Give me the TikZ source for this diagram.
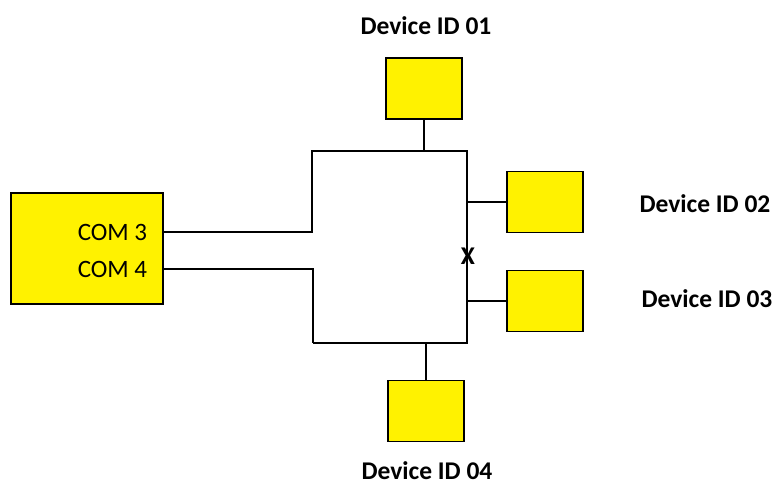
\documentclass[tikz,border=0pt]{standalone}
\usepackage{fontspec}
\setmainfont{Carlito}
\usetikzlibrary{positioning}

\begin{document}
\begin{tikzpicture}[x=1pt, y=-1pt, line width=1.7pt,
    every device/.style={rectangle, draw, fill=yellow, minimum width=76pt, minimum height=61pt, inner sep=0pt},
    every label/.style={font=\fontsize{25.5}{30}\selectfont\bfseries, inner sep=0pt},
    every port/.style={font=\fontsize{25}{30}\selectfont, inner sep=0pt, anchor=east}]

    \useasboundingbox (0,0) rectangle (776,487);

    % Host with two COM ports
    \node[every device, minimum width=152pt, minimum height=111pt] (Host) at (87, 248.5) {};
    \node[every port] (COM-3) at (148, 232) {COM 3};
    \node[every port] (COM-4) at (148, 269) {COM 4};

    % Devices and their labels
    \foreach \n/\x/\y/\lx/\ly in {01/424/88.5/426/26, 02/545/202/705/204, 03/545/301/707/299, 04/426/411/427/471}
    {
        \node[every device] (D-\n) at (\x, \y) {};
        \node[every label] (L-\n) at (\lx, \ly) {Device ID \n};
    }

    % Bus corners
    \coordinate (B-tl) at (312, 151);
    \coordinate (B-tr) at (467, 151);
    \coordinate (B-br) at (467, 343);
    \coordinate (B-bl) at (313, 343);

    % Lines from the ports to the bus
    \draw (Host.east |- COM-3) -| (B-tl) -- (B-tr) -- (B-br) -- (B-bl);
    \draw (Host.east |- COM-4) -| (B-bl);

    % Stubs from the bus to the devices
    \draw (D-01.south) -- (D-01.south |- B-tl);
    \draw (D-04.north) -- (D-04.north |- B-bl);
    \draw (D-02.west) -- (D-02.west -| B-tr);
    \draw (D-03.west) -- (D-03.west -| B-tr);

    % Break mark
    \node[every label] (X) at (468, 256) {X};

\end{tikzpicture}
\end{document}
